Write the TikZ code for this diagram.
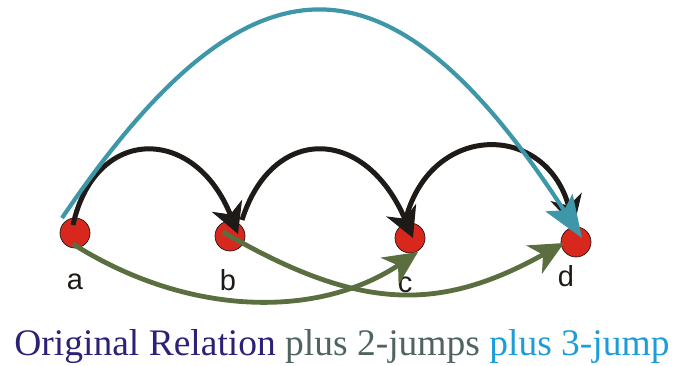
\documentclass[tikz,border=0pt]{standalone}
\usepackage{fontspec}
\setmainfont{Liberation Serif}
\newfontfamily\labelfont{Liberation Sans}
\usetikzlibrary{arrows.meta,calc}
\definecolor{vred}{HTML}{D8281E}
\definecolor{blk}{HTML}{1E1A17}
\definecolor{teal3}{HTML}{3E97A8}
\definecolor{grn2}{HTML}{5A6E3F}
\definecolor{capA}{HTML}{2B2277}
\definecolor{capB}{HTML}{4F6461}
\definecolor{capC}{HTML}{1C9DD9}
\tikzset{
  vertex/.style={circle,fill=vred,draw=blk,line width=0.7pt,minimum size=30pt,inner sep=0pt},
  vlabel/.style={font=\labelfont\fontsize{29}{29}\selectfont,text=blk,inner sep=0pt},
  origedge/.style={draw=blk,line width=5pt,-{Stealth[length=30pt,width=32pt,inset=9pt]}},
  jumptwo/.style={draw=grn2,line width=4.8pt,-{Stealth[length=34pt,width=32pt,inset=10pt]}},
  jumpthree/.style={draw=teal3,line width=4.2pt,-{Stealth[length=42pt,width=32pt,inset=9pt]}},
}
\begin{document}
\begin{tikzpicture}[x=1pt,y=-1pt]
\useasboundingbox (0,0) rectangle (677,366);
\node[vertex] (a) at (75,233) {};
\node[vertex] (b) at (230,236) {};
\node[vertex] (c) at (410,238) {};
\node[vertex] (d) at (576,242) {};
\node[vlabel,anchor=base] (la) at (75,289) {a};
\node[vlabel,anchor=base] (lb) at (228,290) {b};
\node[vlabel,anchor=base] (lc) at (405,292) {c};
\node[vlabel,anchor=base] (ld) at (566,286) {d};
% 2-jumps
\draw[jumptwo] ($(a)+(-2,11)$) .. controls (190,318) and (320,318) .. ($(c)+(8,14)$);
\draw[jumptwo] ($(b)+(-7,-4)$) .. controls (360,312) and (440,312) .. ($(d)+(-12,1)$);
% original relation
\draw[origedge] ($(a)+(-2,-8)$) .. controls (95,125) and (195,125) .. ($(b)+(8,-2)$);
\draw[origedge] ($(b)+(12,-16)$) .. controls (272,125) and (365,125) .. ($(c)+(3,0)$);
\draw[origedge] ($(c)+(-4,-20)$) .. controls (432,122) and (546,122) .. ($(d)+(-2,-16)$);
% 3-jump
\draw[jumpthree] ($(a)+(-13,-15)$) .. controls (250,-59) and (389,-59) .. ($(d)+(6,-4)$);
% caption
\node[anchor=base,inner sep=0pt,font=\fontsize{37.5}{40}\selectfont] (cap) at (342,355)
  {\textcolor{capA}{Original Relation} \textcolor{capB}{plus 2-jumps} \textcolor{capC}{plus 3-jump}};
\end{tikzpicture}
\end{document}
